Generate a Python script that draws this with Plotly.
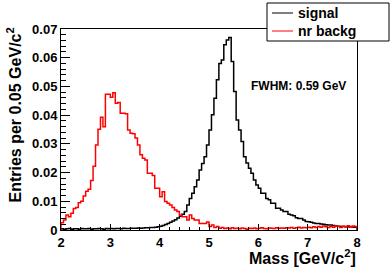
import numpy as np
import plotly.graph_objects as go

bin_lo = 2.0
bin_w = 0.05
n_bins = 120

signal = [
    0.0004,0.0003,0.0004,0.0005,0.0003,0.0004,0.0004,0.0003,0.0005,0.0004,
    0.0004,0.0005,0.0003,0.0004,0.0004,0.0005,0.0004,0.0003,0.0005,0.0004,
    0.0005,0.0004,0.0005,0.0005,0.0004,0.0006,0.0005,0.0005,0.0006,0.0006,
    0.0006,0.0007,0.0006,0.0007,0.0008,0.0008,0.0009,0.0009,0.0010,0.0011,
    0.0013,0.0016,0.0019,0.0023,0.0027,0.0031,0.0036,0.0042,0.0048,0.0055,
    0.0064,0.0087,0.0110,0.0128,0.0151,0.0174,0.0209,0.0232,0.0255,0.0296,
    0.0348,0.0401,0.0459,0.0523,0.0580,0.0592,0.0645,0.0662,0.0670,0.0587,
    0.0482,0.0383,0.0348,0.0308,0.0255,0.0233,0.0215,0.0198,0.0174,0.0157,
    0.0145,0.0128,0.0128,0.0110,0.0105,0.0093,0.0093,0.0076,0.0076,0.0070,
    0.0064,0.0064,0.0055,0.0052,0.0050,0.0043,0.0040,0.0040,0.0035,0.0030,
    0.0029,0.0027,0.0024,0.0023,0.0023,0.0021,0.0020,0.0018,0.0017,0.0017,
    0.0016,0.0015,0.0013,0.0012,0.0012,0.0011,0.0011,0.0010,0.0010,0.0010,
]

nr_backg = [
    0.0025,0.0035,0.0052,0.0046,0.0058,0.0075,0.0078,0.0095,0.0100,0.0118,
    0.0135,0.0142,0.0172,0.0222,0.0296,0.0351,0.0393,0.0360,0.0473,0.0473,
    0.0462,0.0478,0.0441,0.0444,0.0407,0.0407,0.0405,0.0348,0.0337,0.0335,
    0.0320,0.0296,0.0262,0.0250,0.0244,0.0198,0.0198,0.0190,0.0145,0.0145,
    0.0116,0.0133,0.0099,0.0093,0.0087,0.0078,0.0070,0.0064,0.0052,0.0046,
    0.0046,0.0035,0.0052,0.0040,0.0035,0.0035,0.0023,0.0023,0.0023,0.0028,
    0.0012,0.0017,0.0009,0.0012,0.0006,0.0009,0.0005,0.0007,0.0004,0.0008,
    0.0005,0.0006,0.0004,0.0007,0.0005,0.0003,0.0006,0.0005,0.0007,0.0004,
    0.0006,0.0008,0.0005,0.0004,0.0007,0.0006,0.0005,0.0008,0.0006,0.0007,
    0.0006,0.0008,0.0007,0.0009,0.0006,0.0008,0.0010,0.0007,0.0009,0.0008,
    0.0010,0.0008,0.0011,0.0009,0.0012,0.0010,0.0014,0.0011,0.0009,0.0013,
    0.0010,0.0014,0.0012,0.0009,0.0013,0.0011,0.0015,0.0010,0.0014,0.0012,
]

x_ticks = [2, 3, 4, 5, 6, 7, 8]
y_ticks = [0, 0.01, 0.02, 0.03, 0.04, 0.05, 0.06, 0.07]
y_tick_text = ["0", "0.01", "0.02", "0.03", "0.04", "0.05", "0.06", "0.07"]

edges = np.round(bin_lo + bin_w * np.arange(n_bins + 1), 4)


def step_xy(vals):
    xs = [edges[0]] + list(edges) + [edges[-1]]
    ys = [0] + list(vals) + [vals[-1], 0]
    return xs, ys


FONT = "Liberation Sans"
W, H = 392, 267
L, R, T, B = 61, 357, 29, 230  # plot frame in page pixels


def px_x(p):
    return (p - L) / (R - L)


def px_y(p):
    return (B - p) / (B - T)


fig = go.Figure()
sx, sy = step_xy(signal)
bx, by = step_xy(nr_backg)
fig.add_trace(go.Scatter(x=sx, y=sy, mode="lines", line=dict(color="black", width=1.5, shape="hv"),
                         name="signal", showlegend=False, hoverinfo="skip"))
fig.add_trace(go.Scatter(x=bx, y=by, mode="lines", line=dict(color="red", width=1.5, shape="hv"),
                         name="nr backg", showlegend=False, hoverinfo="skip"))

fig.update_layout(
    width=W, height=H,
    margin=dict(l=L, r=W - R, t=T, b=H - B, autoexpand=False),
    paper_bgcolor="white", plot_bgcolor="white",
    font=dict(family=FONT, color="black"),
    showlegend=False,
)
fig.update_xaxes(
    range=[2, 8], tickvals=x_ticks, ticktext=[str(v) for v in x_ticks],
    ticks="inside", ticklen=6, tickcolor="black", tickwidth=1,
    showline=True, linecolor="black", linewidth=1, mirror=True,
    showgrid=False, zeroline=False,
    tickfont=dict(family=FONT, size=13, color="black", weight="bold"),
    minor=dict(dtick=0.2, ticks="inside", ticklen=3, tickcolor="black", showgrid=False),
)
fig.update_yaxes(
    range=[0, 0.07], tickvals=y_ticks, ticktext=y_tick_text,
    ticks="inside", ticklen=9, tickcolor="black", tickwidth=1,
    showline=True, linecolor="black", linewidth=1, mirror=True,
    showgrid=False, zeroline=False,
    tickfont=dict(family=FONT, size=13, color="black", weight="bold"),
    minor=dict(dtick=0.002, ticks="inside", ticklen=5, tickcolor="black", showgrid=False),
)

# y title (right-aligned to top like ROOT)
fig.add_annotation(
    text="Entries per 0.05 GeV/c<sup>2</sup>", textangle=-90,
    xref="paper", yref="paper", x=px_x(14), y=px_y(26),
    xanchor="center", yanchor="top", showarrow=False,
    font=dict(family=FONT, size=16, color="black", weight="bold"),
)
# x title
fig.add_annotation(
    text="Mass [GeV/c<sup>2</sup>]",
    xref="paper", yref="paper", x=px_x(358), y=px_y(245),
    xanchor="right", yanchor="top", showarrow=False,
    font=dict(family=FONT, size=16, color="black", weight="bold"),
)
# FWHM label
fig.add_annotation(
    text="FWHM: 0.59 GeV",
    xref="paper", yref="paper", x=px_x(298), y=px_y(86),
    xanchor="center", yanchor="middle", showarrow=False,
    font=dict(family=FONT, size=12, color="black", weight="bold"),
)

# legend box (ROOT style)
fig.add_shape(type="rect", xref="paper", yref="paper",
              x0=px_x(267), x1=px_x(389), y0=px_y(41), y1=px_y(3),
              line=dict(color="black", width=1), fillcolor="white", layer="above")
for i, (name, col) in enumerate([("signal", "black"), ("nr backg", "red")]):
    yc = 13 + 18 * i
    fig.add_shape(type="line", xref="paper", yref="paper",
                  x0=px_x(272), x1=px_x(293), y0=px_y(yc), y1=px_y(yc),
                  line=dict(color=col, width=1), layer="above")
    fig.add_annotation(text=name, xref="paper", yref="paper",
                       x=px_x(296), y=px_y(yc), xanchor="left", yanchor="middle",
                       showarrow=False,
                       font=dict(family=FONT, size=14, color="black", weight="bold"))

fig.write_html("out.html", config={"displayModeBar": False},
               post_script="document.body.style.margin='0px';")
